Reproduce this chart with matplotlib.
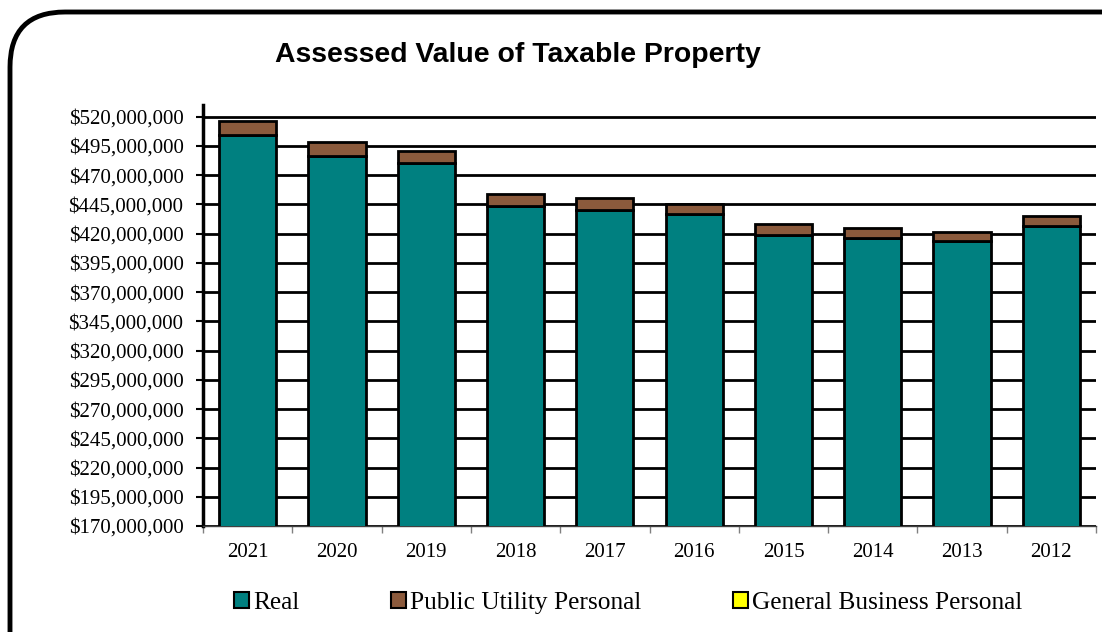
import numpy as np
import matplotlib
matplotlib.use("Agg")
from matplotlib import pyplot as plt
from matplotlib.patches import FancyBboxPatch, Patch
from matplotlib.ticker import FuncFormatter, MultipleLocator

# values in millions of dollars
years = ['2021', '2020', '2019', '2018', '2017', '2016', '2015', '2014', '2013', '2012']
real = [504.6, 486.6, 480.4, 443.8, 440.4, 436.4, 419.0, 416.2, 413.6, 426.7]
public_utility = [12.0, 11.5, 10.5, 10.0, 10.0, 9.2, 9.2, 8.3, 8.0, 8.0]
general_business = [0, 0, 0, 0, 0, 0, 0, 0, 0, 0]

series_names = ['Real', 'Public Utility Personal', 'General Business Personal']
colors = ['#008080', '#8B5A3C', '#FFFF00']

serif = ['Liberation Serif', 'DejaVu Serif']

fig = plt.figure(figsize=(11.02, 6.32), dpi=100)
ax = fig.add_axes([203 / 1102, 1 - 526 / 632, (1096 - 203) / 1102, (526 - 105) / 632])

x = np.arange(len(years))
real_m = np.array(real) * 1e6
pup_m = np.array(public_utility) * 1e6
gbp_m = np.array(general_business) * 1e6

ax.bar(x, real_m, width=0.64, color=colors[0], edgecolor='black', linewidth=2, zorder=3)
ax.bar(x, pup_m, width=0.64, bottom=real_m, color=colors[1], edgecolor='black', linewidth=2, zorder=3)
ax.bar(x, gbp_m, width=0.64, bottom=real_m + pup_m, color=colors[2], edgecolor='black', linewidth=0, zorder=3)

ax.set_xlim(-0.5, len(years) - 0.5)
ax.set_ylim(170e6, 530e6)
ax.set_yticks(np.arange(170e6, 520e6 + 1, 25e6))
ax.yaxis.set_major_formatter(FuncFormatter(lambda v, p: '${:,.0f}'.format(v)))
ax.grid(axis='y', color='black', linewidth=2, zorder=1)

ax.set_xticks(x)
ax.set_xticklabels(years)
ax.xaxis.set_minor_locator(MultipleLocator(1, offset=0.5))
ax.tick_params(axis='x', which='major', length=0, pad=12)
ax.tick_params(axis='x', which='minor', length=5, color='#808080', width=1)
ax.tick_params(axis='y', length=5, width=1.5, pad=9)
for lab in ax.get_xticklabels() + ax.get_yticklabels():
    lab.set_family(serif)
    lab.set_fontsize(15)

for side in ['top', 'right']:
    ax.spines[side].set_visible(False)
ax.spines['left'].set_linewidth(2.5)
ax.spines['bottom'].set_linewidth(1)
ax.spines['bottom'].set_color('#404040')

fig.text(518 / 1102, 1 - 55 / 632, 'Assessed Value of Taxable Property', ha='center', va='center',
         fontsize=20.4, fontweight='bold', family=['Liberation Sans', 'DejaVu Sans'])

handles = [Patch(facecolor=c, edgecolor='black', linewidth=1.5) for c in colors]
fig.legend(handles, series_names, loc='center', bbox_to_anchor=(628 / 1102, 1 - 603 / 632), ncol=3,
           frameon=False, handlelength=0.6, handleheight=0.6, handletextpad=0.15, columnspacing=3.6,
           prop={'family': serif, 'size': 18.3})

frame = FancyBboxPatch((10 / 1102, -0.2), 1.2, 1.2 - 12 / 632, boxstyle='round,pad=0,rounding_size=0.05',
                       transform=fig.transFigure, facecolor='none', edgecolor='black', linewidth=3.5,
                       mutation_aspect=1102 / 632, zorder=0)
fig.patches.append(frame)

fig.savefig('out.png', dpi=100)
